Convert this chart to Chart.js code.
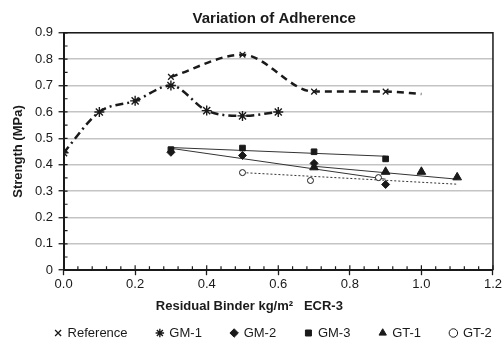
<!DOCTYPE html>
<html>
<head>
<meta charset="utf-8">
<script src="https://cdn.jsdelivr.net/npm/chart.js@4"></script>
<style>
  html, body { margin: 0; padding: 0; background: #fff; }
  #wrap { width: 503px; height: 340px; }
</style>
</head>
<body>
<div id="wrap"><canvas id="AdherenceChart" width="503" height="340"></canvas></div>
<script>
// values
var refX = [0.3, 0.5, 0.7, 0.9, 1.0];
var refY = [0.733, 0.817, 0.677, 0.677, 0.668];

var gm1X = [0.0, 0.1, 0.2, 0.3, 0.4, 0.5, 0.6];
var gm1Y = [0.445, 0.6, 0.642, 0.70, 0.605, 0.585, 0.6];

var gm2X = [0.3, 0.5, 0.7, 0.9];
var gm2Y = [0.447, 0.435, 0.405, 0.325];

var gm3X = [0.3, 0.5, 0.7, 0.9];
var gm3Y = [0.457, 0.463, 0.449, 0.422];

var gt1X = [0.7, 0.9, 1.0, 1.1];
var gt1Y = [0.39, 0.373, 0.373, 0.352];

var gt2X = [0.5, 0.69, 0.88];
var gt2Y = [0.37, 0.34, 0.351];

// trend line end points (as drawn in the picture)
var gm2TrendX = [0.3, 0.9];
var gm2TrendY = [0.462, 0.345];
var gm3TrendX = [0.3, 0.9];
var gm3TrendY = [0.465, 0.432];
var gt1TrendX = [0.7, 1.1];
var gt1TrendY = [0.394, 0.345];
var gt2TrendX = [0.5, 1.1];
var gt2TrendY = [0.37, 0.326];

var yTicks = [0, 0.1, 0.2, 0.3, 0.4, 0.5, 0.6, 0.7, 0.8, 0.9];
var xTicks = [0.0, 0.2, 0.4, 0.6, 0.8, 1.0, 1.2];

function pts(xs, ys) {
    return xs.map(function (x, i) { return { x: x, y: ys[i] }; });
}

var ink = '#1a1a1a';
var fam = 'Liberation Sans, Arial, sans-serif';

// frame on top/right plus small inner ticks
var framePlugin = {
    id: 'frame',
    afterDraw: function (chart) {
        var ctx = chart.ctx;
        var a = chart.chartArea;
        var xs = chart.scales.x, ys = chart.scales.y;
        ctx.save();
        ctx.strokeStyle = ink;
        ctx.lineWidth = 1.5;
        ctx.beginPath();
        ctx.moveTo(a.left, a.top);
        ctx.lineTo(a.right, a.top);
        ctx.lineTo(a.right, a.bottom);
        ctx.stroke();
        ctx.lineWidth = 1.2;
        ctx.beginPath();
        for (var v = 0; v <= 1.2001; v += 0.04) {
            var px = xs.getPixelForValue(v);
            var major = Math.abs(v / 0.2 - Math.round(v / 0.2)) < 0.01;
            ctx.moveTo(px, a.bottom);
            ctx.lineTo(px, a.bottom - (major ? 5 : 4));
        }
        for (var w = 0; w <= 0.9001; w += 0.05) {
            var py = ys.getPixelForValue(w);
            ctx.moveTo(a.left, py);
            ctx.lineTo(a.left + 4, py);
        }
        ctx.stroke();
        ctx.restore();
    }
};

var ctx = document.getElementById('AdherenceChart').getContext('2d');

var chart = new Chart(ctx, {
    type: 'scatter',
    data: {
        datasets: [
            {
                label: 'Reference',
                data: pts(refX, refY),
                showLine: true,
                cubicInterpolationMode: 'monotone',
                borderColor: ink,
                borderWidth: 2.5,
                borderDash: [7, 5],
                pointStyle: 'crossRot',
                pointRadius: [4, 4, 4, 4, 0],
                pointBorderColor: ink,
                pointBorderWidth: 1.3,
                backgroundColor: ink
            },
            {
                label: 'GM-1',
                data: pts(gm1X, gm1Y),
                showLine: true,
                cubicInterpolationMode: 'monotone',
                borderColor: ink,
                borderWidth: 2.5,
                borderDash: [8, 4, 2, 4],
                pointStyle: 'star',
                pointRadius: 5,
                pointBorderColor: ink,
                pointBorderWidth: 1.4,
                backgroundColor: ink
            },
            {
                label: 'GM-2',
                data: pts(gm2X, gm2Y),
                showLine: false,
                pointStyle: 'rectRot',
                pointRadius: 4,
                pointBackgroundColor: ink,
                pointBorderColor: ink,
                backgroundColor: ink,
                borderColor: ink
            },
            {
                label: 'GM-3',
                data: pts(gm3X, gm3Y),
                showLine: false,
                pointStyle: 'rect',
                pointRadius: 4,
                pointBackgroundColor: ink,
                pointBorderColor: ink,
                backgroundColor: ink,
                borderColor: ink
            },
            {
                label: 'GT-1',
                data: pts(gt1X, gt1Y),
                showLine: false,
                pointStyle: 'triangle',
                pointRadius: 5,
                pointBackgroundColor: ink,
                pointBorderColor: ink,
                backgroundColor: ink,
                borderColor: ink
            },
            {
                label: 'GT-2',
                data: pts(gt2X, gt2Y),
                showLine: false,
                pointStyle: 'circle',
                pointRadius: 3,
                pointBackgroundColor: '#fff',
                pointBorderColor: ink,
                pointBorderWidth: 1,
                backgroundColor: '#fff',
                borderColor: ink
            },
            {
                label: 'trend',
                data: pts(gm2TrendX, gm2TrendY),
                showLine: true, borderColor: '#333', borderWidth: 1, pointRadius: 0
            },
            {
                label: 'trend',
                data: pts(gm3TrendX, gm3TrendY),
                showLine: true, borderColor: '#333', borderWidth: 1, pointRadius: 0
            },
            {
                label: 'trend',
                data: pts(gt1TrendX, gt1TrendY),
                showLine: true, borderColor: '#333', borderWidth: 1, pointRadius: 0
            },
            {
                label: 'trend',
                data: pts(gt2TrendX, gt2TrendY),
                showLine: true, borderColor: '#333', borderWidth: 1, borderDash: [2, 2], pointRadius: 0
            }
        ]
    },
    options: {
        responsive: false,
        animation: false,
        layout: { padding: { left: 8, right: 0, top: 8, bottom: -9.5 } },
        plugins: {
            tooltip: { enabled: false },
            title: {
                display: true,
                text: '         Variation of Adherence',
                color: ink,
                font: { family: fam, size: 15, weight: 'bold' },
                padding: { top: 2, bottom: 4.8 }
            },
            legend: {
                position: 'bottom',
                align: 'end',
                labels: {
                    usePointStyle: true,
                    boxWidth: 6,
                    boxHeight: 6,
                    padding: 4,
                    color: ink,
                    font: { family: fam, size: 13 },
                    filter: function (item) { return item.text.trim() !== 'trend'; },
                    generateLabels: function (c) {
                        var items = Chart.defaults.plugins.legend.labels.generateLabels(c);
                        items.forEach(function (it) {
                            it.text = it.text + (it.text === 'GT-2' ? '  ' : '       ');
                        });
                        return items;
                    }
                }
            }
        },
        scales: {
            x: {
                type: 'linear',
                min: 0,
                max: 1.2,
                afterBuildTicks: function (s) { s.ticks = xTicks.map(function (v) { return { value: v }; }); },
                ticks: {
                    color: ink,
                    padding: 1,
                    font: { family: fam, size: 13 },
                    callback: function (v) { return Number(v).toFixed(1); }
                },
                grid: { drawOnChartArea: false, drawTicks: true, tickLength: 5, tickColor: ink, tickWidth: 1.3 },
                border: { color: ink, width: 2 },
                title: {
                    display: true,
                    text: 'Residual Binder kg/m\u00B2   ECR-3                ',
                    color: ink,
                    font: { family: fam, size: 13, weight: 'bold' },
                    padding: { top: 5.4, bottom: 8.7 }
                }
            },
            y: {
                min: 0,
                max: 0.9,
                afterBuildTicks: function (s) { s.ticks = yTicks.map(function (v) { return { value: v }; }); },
                ticks: {
                    color: ink,
                    padding: 5.5,
                    font: { family: fam, size: 13 },
                    callback: function (v) { return v === 0 ? '0' : Number(v).toFixed(1); }
                },
                grid: { color: '#c4c4c4', lineWidth: 1.5, tickLength: 5, tickColor: ink, tickWidth: 1.3 },
                border: { color: ink, width: 2 },
                title: {
                    display: true,
                    text: 'Strength (MPa)',
                    color: ink,
                    font: { family: fam, size: 13, weight: 'bold' },
                    padding: { top: 2.2, bottom: 3.7 }
                }
            }
        }
    },
    plugins: [framePlugin]
});
</script>
</body>
</html>
